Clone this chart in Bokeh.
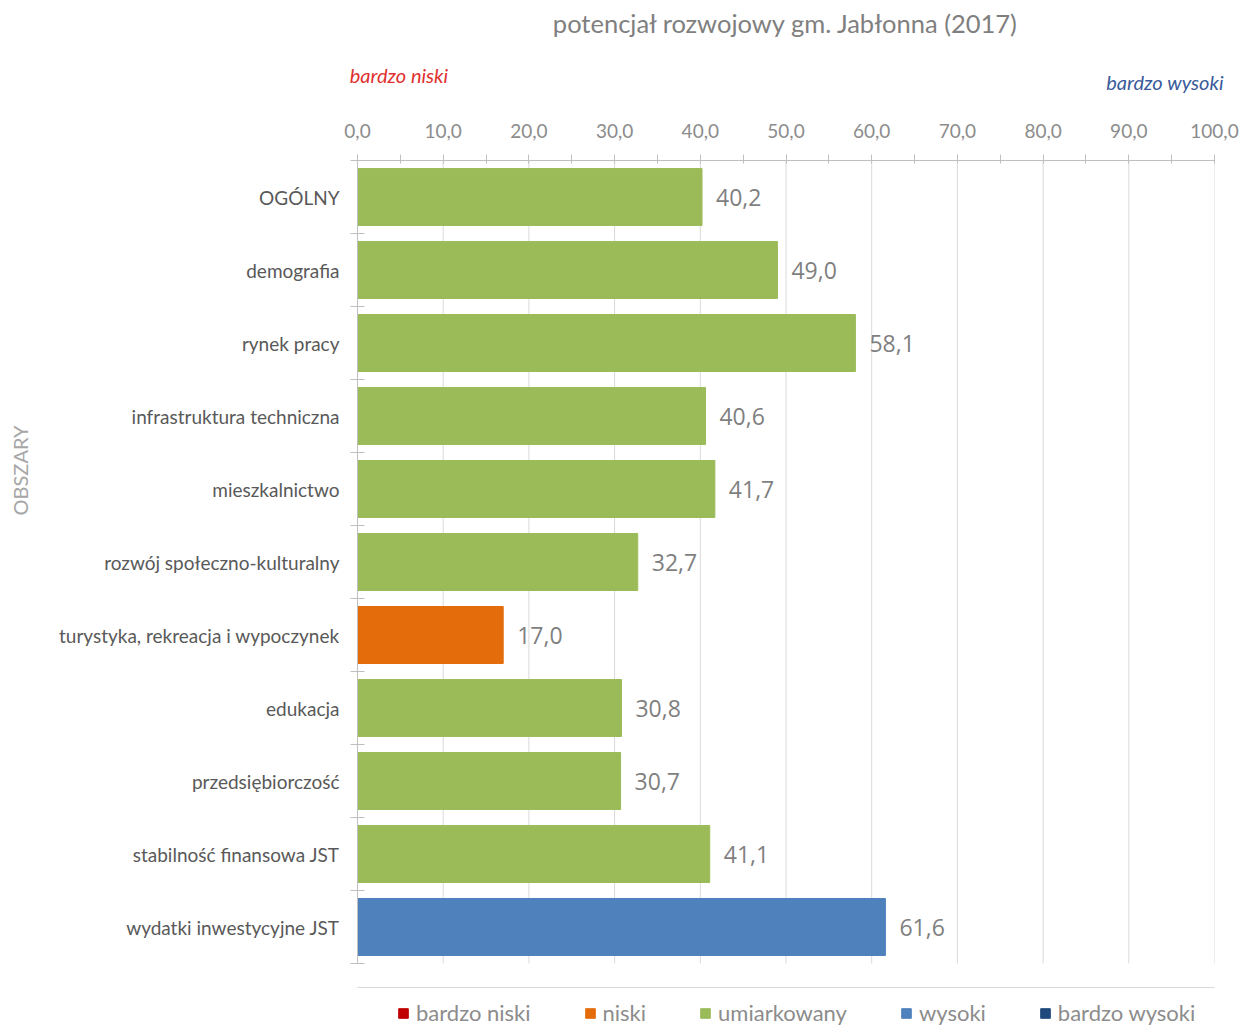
from bokeh.plotting import figure
from bokeh.models import (ColumnDataSource, Range1d, FixedTicker, Legend, LegendItem, LinearAxis,
                          BoxAnnotation)
from bokeh.transform import factor_cmap
from bokeh.core.properties import value
from bokeh.embed import file_html
from bokeh.resources import INLINE

title_text = "potencjał rozwojowy gm. Jabłonna (2017)"
y_title = "OBSZARY"
note_low = "bardzo niski"
note_high = "bardzo wysoki"
categories = ["OGÓLNY", "demografia", "rynek pracy", "infrastruktura techniczna", "mieszkalnictwo",
              "rozwój społeczno-kulturalny", "turystyka, rekreacja i wypoczynek", "edukacja",
              "przedsiębiorczość", "stabilność finansowa JST", "wydatki inwestycyjne JST"]
values = [40.2, 49.0, 58.1, 40.6, 41.7, 32.7, 17.0, 30.8, 30.7, 41.1, 61.6]
classes = ["umiarkowany", "umiarkowany", "umiarkowany", "umiarkowany", "umiarkowany", "umiarkowany",
           "niski", "umiarkowany", "umiarkowany", "umiarkowany", "wysoki"]
class_names = ["bardzo niski", "niski", "umiarkowany", "wysoki", "bardzo wysoki"]
class_colors = ["#C00000", "#E46C0A", "#9BBB59", "#4F81BD", "#1F497D"]
x_ticks = [0, 10, 20, 30, 40, 50, 60, 70, 80, 90, 100]

n = len(categories)
ypos = [n - 0.5 - i for i in range(n)]
labels = [f"{v:.1f}".replace(".", ",") for v in values]

# layout: frame spans page y 160..1032; one category band = 73 px, the rest holds the legend
FRAME_H = 1032 - 160
BAND = 73.0
y_min = n - FRAME_H / BAND

FONT = "Lato"
p = figure(width=1241, height=1032, output_backend="svg", toolbar_location=None,
           x_range=Range1d(0, 100), y_range=Range1d(y_min, n), x_axis_location="above",
           min_border_left=357, min_border_right=27, min_border_top=160, min_border_bottom=0)
p.title_location = None
p.outline_line_color = None
p.background_fill_color = "white"
p.border_fill_color = "white"
p.xgrid.visible = False
p.ygrid.visible = False

# main x axis (top)
xa = p.xaxis[0]
xa.ticker = FixedTicker(ticks=x_ticks, minor_ticks=[t + 5 for t in x_ticks[:-1]])
xa.major_label_overrides = {t: f"{t:.1f}".replace(".", ",") for t in x_ticks}
xa.axis_line_color = "#BFBFBF"
xa.major_tick_line_color = "#BFBFBF"
xa.minor_tick_line_color = "#BFBFBF"
xa.major_tick_out = 6
xa.major_tick_in = 3
xa.minor_tick_out = 6
xa.minor_tick_in = 3
xa.major_label_standoff = 17
xa.major_label_text_font = FONT
xa.major_label_text_font_size = "19px"
xa.major_label_text_color = "#8C8C8C"


def text_axis(ticks, overrides, color, size, standoff, style="normal"):
    ax = LinearAxis(ticker=FixedTicker(ticks=ticks), major_label_overrides=overrides)
    ax.axis_line_color = None
    ax.major_tick_line_color = None
    ax.minor_tick_line_color = None
    ax.major_tick_out = 0
    ax.major_tick_in = 0
    ax.minor_tick_out = 0
    ax.minor_tick_in = 0
    ax.major_label_standoff = standoff
    ax.major_label_text_font = FONT
    ax.major_label_text_font_size = size
    ax.major_label_text_font_style = style
    ax.major_label_text_color = color
    return ax


# notes above the scale and the title
ax_high = text_axis([94.22], {94.22: note_high}, "#3A5A9A", "20px", 27, "italic")
p.add_layout(ax_high, "above")
ax_low = text_axis([4.84], {4.84: note_low}, "#E03030", "20px", -20, "italic")
ax_low.axis_label = title_text
ax_low.axis_label_standoff = 22
ax_low.axis_label_text_font = FONT
ax_low.axis_label_text_font_size = "25.5px"
ax_low.axis_label_text_font_style = "normal"
ax_low.axis_label_text_color = "#7F7F7F"
p.add_layout(ax_low, "above")

# category axis (left)
ya = p.yaxis[0]
ya.bounds = (0, n)
ya.ticker = FixedTicker(ticks=ypos, minor_ticks=list(range(n + 1)))
ya.major_label_overrides = {y: c for y, c in zip(ypos, categories)}
ya.axis_line_color = "#BFBFBF"
ya.major_tick_line_color = None
ya.major_tick_out = 0
ya.major_tick_in = 0
ya.minor_tick_line_color = "#BFBFBF"
ya.minor_tick_out = 7
ya.minor_tick_in = 7
ya.major_label_standoff = 11
ya.major_label_text_font = FONT
ya.major_label_text_font_size = "19px"
ya.major_label_text_color = "#595959"

ax_obs = text_axis([6.753], {6.753: y_title}, "#A6A6A6", "20px", 23)
ax_obs.major_label_orientation = "vertical"
p.add_layout(ax_obs, "left")

# vertical grid lines over the category bands only
gx = x_ticks[1:]
p.segment(x0=gx, y0=[0] * len(gx), x1=gx, y1=[n] * len(gx), line_color="#D9D9D9", line_width=1)

# bars, coloured by class
src = ColumnDataSource(dict(y=ypos, right=values, cls=classes))
cmap = factor_cmap("cls", palette=class_colors, factors=class_names)
p.hbar(y="y", left=0, right="right", height=0.78, source=src, fill_color=cmap, line_color=cmap)

# legend-only swatches: one row per class, no position in the plot
nan = float("nan")
leg_src = ColumnDataSource(dict(y=[nan] * len(class_names), right=[nan] * len(class_names),
                                cls=class_names))
lcmap = factor_cmap("cls", palette=class_colors, factors=class_names)
r_leg = p.hbar(y="y", left=0, right="right", height=0.78, source=leg_src,
               fill_color=lcmap, line_color=lcmap)
items = [LegendItem(label=c, renderers=[r_leg], index=i) for i, c in enumerate(class_names)]

tsrc = ColumnDataSource(dict(x=values, y=ypos, t=labels))
p.text(x="x", y="y", text="t", source=tsrc, x_offset=14, text_baseline="middle",
       text_align="left", text_font=value("Open Sans"), text_font_size="23px",
       text_color="#7F7F7F")

# legend frame (open at the bottom like the cropped original)
p.add_layout(BoxAnnotation(left=-14 / 8.57, right=100 + 21 / 8.57,
                           top=n - (987 - 160) / BAND, bottom=y_min - 1,
                           fill_alpha=0, line_color="#D9D9D9", line_alpha=1, line_width=1))

legend = Legend(items=items, orientation="horizontal", location=(40, 6), margin=0,
                border_line_color=None, padding=12, spacing=53, label_standoff=7,
                glyph_width=12, glyph_height=12, label_text_font=FONT,
                label_text_font_size="22px", label_text_color="#8C8C8C",
                background_fill_alpha=0)
p.add_layout(legend, "center")

open("out.html", "w").write(file_html(p, INLINE))
